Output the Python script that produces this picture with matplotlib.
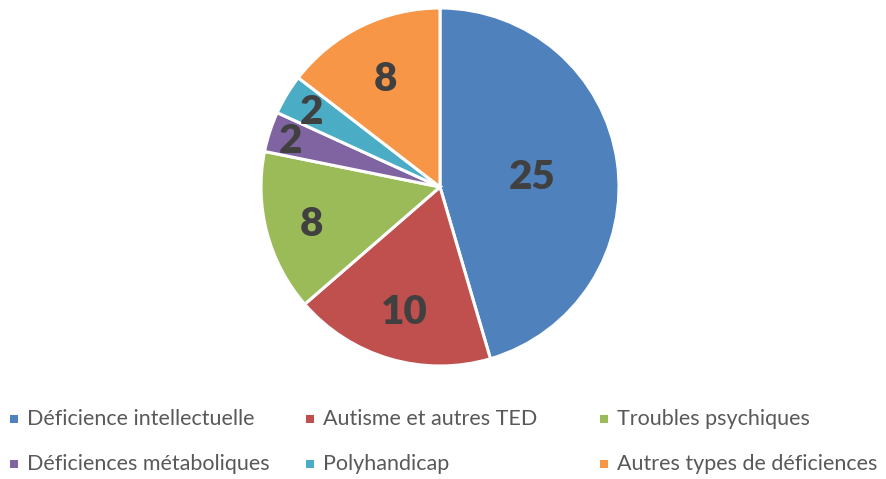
import numpy as np
import matplotlib
matplotlib.use("Agg")
import matplotlib.pyplot as plt
from matplotlib.patches import Rectangle

categories = [
    "Déficience intellectuelle",
    "Autisme et autres TED",
    "Troubles psychiques",
    "Déficiences métaboliques",
    "Polyhandicap",
    "Autres types de déficiences",
]
values = [25, 10, 8, 2, 2, 8]
colors = ["#4F81BD", "#C0504D", "#9BBB59", "#8064A2", "#4BACC6", "#F79646"]
label_dist = [0.52, 0.71, 0.74, 0.88, 0.84, 0.69]

plt.rcParams["font.family"] = ["Lato", "DejaVu Sans"]

W, H = 886, 479
fig = plt.figure(figsize=(W / 100, H / 100), dpi=100)
cx, cy, r = 440, 187, 179
ax = fig.add_axes([(cx - r) / W, (H - cy - r) / H, 2 * r / W, 2 * r / H])

wedges, _ = ax.pie(values, colors=colors, startangle=90, counterclock=False,
                   radius=1, wedgeprops=dict(edgecolor="white", linewidth=2.2))
for w, v, d in zip(wedges, values, label_dist):
    ang = np.deg2rad((w.theta1 + w.theta2) / 2)
    ax.text(d * np.cos(ang), d * np.sin(ang) - 0.02, str(v), ha="center",
            va="center", fontsize=29, fontweight="heavy", color="#404040")
ax.set_xlim(-1, 1)
ax.set_ylim(-1, 1)
ax.set_aspect("equal")
ax.axis("off")

# legend, two rows of three evenly spaced columns
col_x = [14, 310, 604]
row_y = [419, 464]
for i, (name, c) in enumerate(zip(categories, colors)):
    x = col_x[i % 3]
    y = row_y[i // 3]
    fig.patches.append(Rectangle(((x - 4) / W, (H - y - 4) / H), 8 / W, 8 / H,
                                 transform=fig.transFigure, facecolor=c,
                                 edgecolor="none"))
    fig.text((x + 13) / W, (H - y) / H, name, ha="left", va="center",
             fontsize=15.5, color="#595959")

fig.savefig("out.png", dpi=100)
